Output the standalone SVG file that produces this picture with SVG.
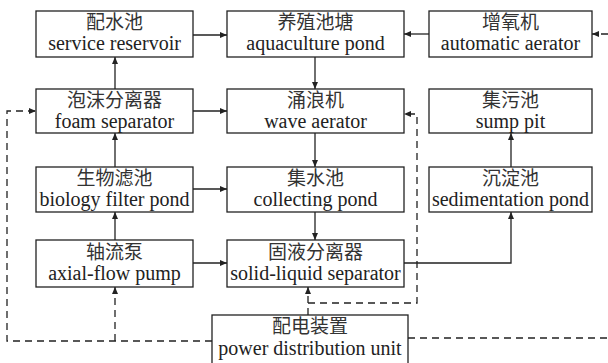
<svg xmlns="http://www.w3.org/2000/svg" width="608" height="363" viewBox="0 0 608 363">
<defs>
<marker id="ah" markerUnits="userSpaceOnUse" markerWidth="8" markerHeight="6" refX="7" refY="3" orient="auto">
<path d="M0,0 L7,3 L0,6 z" fill="#222"/>
</marker>
<style>
.box{fill:#fff;stroke:#222;stroke-width:1.3}
.cn{font-family:'Noto Sans CJK SC',sans-serif;font-size:19px;fill:#333;text-anchor:middle}
.en{font-family:'Liberation Serif','Times New Roman',Times,'DejaVu Serif',serif;font-size:20px;fill:#222;text-anchor:middle}
.ln{fill:none;stroke:#222;stroke-width:1.3}
.ar{marker-end:url(#ah)}
.ds{stroke-dasharray:7 5}
</style>
</defs>
<rect width="608" height="363" fill="#fff"/>
<g id="connectors">
<path class="ln ar" d="M193,35 H227"/>
<path class="ln ar" d="M429,34 H404"/>
<path class="ln ar" d="M115,89 V57"/>
<path class="ln ar" d="M193,111 H227"/>
<path class="ln ar" d="M115,167 V133"/>
<path class="ln ar" d="M315,57 V89"/>
<path class="ln ar" d="M315,133 V167"/>
<path class="ln ar" d="M315,212 V240"/>
<path class="ln ar" d="M193,189 H227"/>
<path class="ln ar" d="M115,240 V212"/>
<path class="ln ar" d="M193,263 H227"/>
<path class="ln ar" d="M404,263 H511 V212"/>
<path class="ln ar" d="M511,167 V133"/>
<path class="ln ds ar" d="M212,341 H7 V111 H36"/>
<path class="ln ds ar" d="M115,341 V287"/>
<path class="ln ds ar" d="M308,315 V287"/>
<path class="ln ds ar" d="M308,303 H417 V114 H404"/>
<path class="ln ds" d="M408,338 H608"/>
<path class="ln ds ar" d="M608,34 H592"/>
</g>
<g id="service-reservoir"><rect class="box" x="36" y="11" width="157" height="46"/><text class="cn" x="114.5" y="29">配水池</text><text class="en" x="114.5" y="50" font-family="Liberation Serif, serif">service reservoir</text></g>
<g id="aquaculture-pond"><rect class="box" x="227" y="11" width="177" height="46"/><text class="cn" x="315.5" y="29">养殖池塘</text><text class="en" x="315.5" y="50">aquaculture pond</text></g>
<g id="automatic-aerator"><rect class="box" x="429" y="11" width="163" height="46"/><text class="cn" x="510.5" y="29">增氧机</text><text class="en" x="510.5" y="50">automatic aerator</text></g>
<g id="foam-separator"><rect class="box" x="36" y="89" width="157" height="44"/><text class="cn" x="114.5" y="107">泡沫分离器</text><text class="en" x="114.5" y="128">foam separator</text></g>
<g id="wave-aerator"><rect class="box" x="227" y="89" width="177" height="44"/><text class="cn" x="315.5" y="107">涌浪机</text><text class="en" x="315.5" y="128">wave aerator</text></g>
<g id="sump-pit"><rect class="box" x="429" y="89" width="163" height="44"/><text class="cn" x="510.5" y="107">集污池</text><text class="en" x="510.5" y="128">sump pit</text></g>
<g id="biology-filter-pond"><rect class="box" x="36" y="167" width="157" height="45"/><text class="cn" x="114.5" y="185">生物滤池</text><text class="en" x="114.5" y="206">biology filter pond</text></g>
<g id="collecting-pond"><rect class="box" x="227" y="167" width="177" height="45"/><text class="cn" x="315.5" y="185">集水池</text><text class="en" x="315.5" y="206">collecting pond</text></g>
<g id="sedimentation-pond"><rect class="box" x="429" y="167" width="163" height="45"/><text class="cn" x="510.5" y="185">沉淀池</text><text class="en" x="510.5" y="206">sedimentation pond</text></g>
<g id="axial-flow-pump"><rect class="box" x="36" y="240" width="157" height="47"/><text class="cn" x="114.5" y="259">轴流泵</text><text class="en" x="114.5" y="280">axial-flow pump</text></g>
<g id="solid-liquid-separator"><rect class="box" x="227" y="240" width="177" height="47"/><text class="cn" x="315.5" y="259">固液分离器</text><text class="en" x="315.5" y="280">solid-liquid separator</text></g>
<g id="power-distribution-unit"><rect class="box" x="212" y="315" width="196" height="52"/><text class="cn" x="310" y="333">配电装置</text><text class="en" x="310" y="355">power distribution unit</text></g>
</svg>
